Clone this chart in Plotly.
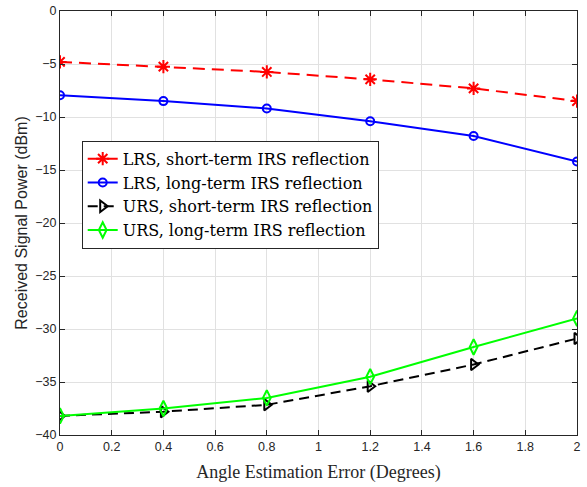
import plotly.graph_objects as go

# Angle estimation error (degrees)
angle_err = [0, 0.4, 0.8, 1.2, 1.6, 2.0]

# Received signal power (dBm)
lrs_short = [-4.8, -5.25, -5.75, -6.45, -7.3, -8.5]
lrs_long = [-7.95, -8.5, -9.2, -10.4, -11.8, -14.2]
urs_short = [-38.2, -37.8, -37.15, -35.4, -33.35, -30.9]
urs_long = [-38.2, -37.5, -36.5, -34.5, -31.7, -29.0]

series_names = [
    "LRS, short-term IRS reflection",
    "LRS, long-term IRS reflection",
    "URS, short-term IRS reflection",
    "URS, long-term IRS reflection",
]

fig = go.Figure()

fig.add_trace(go.Scatter(
    x=angle_err, y=lrs_short, name=series_names[0], mode="lines+markers",
    line=dict(color="#ff0000", width=2, dash="12px,7px"),
    marker=dict(symbol="asterisk-open", size=11, color="#ff0000",
                line=dict(color="#ff0000", width=2)),
))
fig.add_trace(go.Scatter(
    x=angle_err, y=lrs_long, name=series_names[1], mode="lines+markers",
    line=dict(color="#0000ff", width=2),
    marker=dict(symbol="circle-open", size=8, color="#0000ff",
                line=dict(color="#0000ff", width=2)),
))
fig.add_trace(go.Scatter(
    x=angle_err, y=urs_short, name=series_names[2], mode="lines+markers",
    line=dict(color="#000000", width=2, dash="10px,6px"),
    marker=dict(symbol="triangle-right-open", size=10, color="#000000",
                line=dict(color="#000000", width=2)),
))
fig.add_trace(go.Scatter(
    x=angle_err, y=urs_long, name=series_names[3], mode="lines+markers",
    line=dict(color="#00ff00", width=2),
    marker=dict(symbol="diamond-tall-open", size=11, color="#00ff00",
                line=dict(color="#00ff00", width=2)),
))

axis_common = dict(
    showgrid=True, gridcolor="#e1e1e1", gridwidth=1,
    showline=True, linecolor="#262626", linewidth=1, mirror="ticks",
    ticks="inside", ticklen=5, tickcolor="#262626",
    tickfont=dict(family="Liberation Sans, Arial, sans-serif", size=12.5, color="#262626"),
    zeroline=False, automargin=False,
)

fig.update_xaxes(
    range=[0, 2], tickvals=[0, 0.2, 0.4, 0.6, 0.8, 1, 1.2, 1.4, 1.6, 1.8, 2],
    ticktext=["0", "0.2", "0.4", "0.6", "0.8", "1", "1.2", "1.4", "1.6", "1.8", "2"],
    title=dict(text="Angle Estimation Error (Degrees)", standoff=12,
               font=dict(family="Liberation Serif, Times New Roman, serif", size=18, color="#262626")),
    **axis_common,
)
fig.update_yaxes(
    range=[-40, 0], tickvals=list(range(-40, 1, 5)),
    title=dict(text="Received Signal Power (dBm)", standoff=3,
               font=dict(family="Liberation Sans, Arial, sans-serif", size=16, color="#262626")),
    **axis_common,
)

fig.update_layout(
    width=587, height=487,
    margin=dict(l=60, r=10, t=11, b=52, autoexpand=False),
    paper_bgcolor="white", plot_bgcolor="white",
    showlegend=True,
    legend=dict(
        x=0.042, y=0.694, xanchor="left", yanchor="top",
        bgcolor="white", bordercolor="#262626", borderwidth=1,
        font=dict(family="DejaVu Serif, serif", size=16, color="#000000"),
        tracegroupgap=0, itemwidth=30,
    ),
)

fig.write_html("out.html")
